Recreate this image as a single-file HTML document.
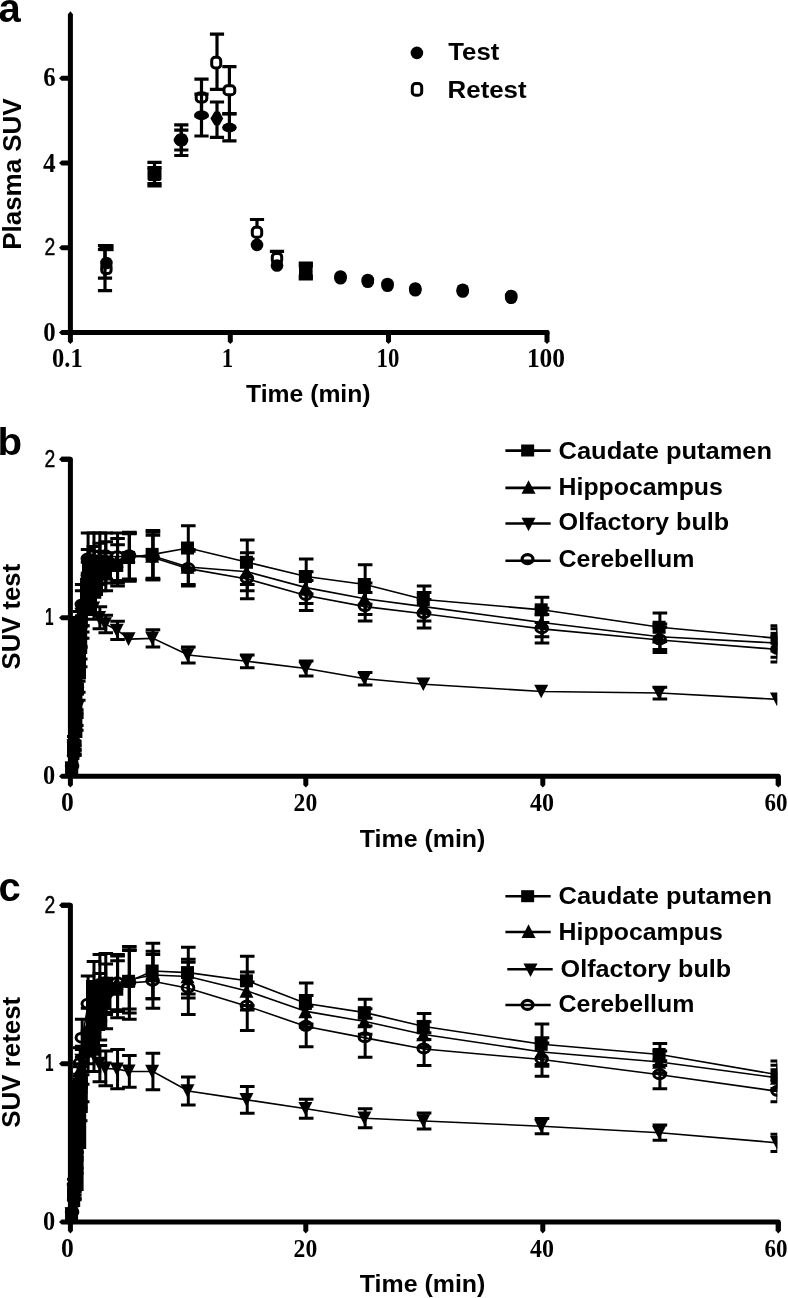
<!DOCTYPE html>
<html><head><meta charset="utf-8"><title>Figure</title>
<style>html,body{margin:0;padding:0;background:#fff;}body{width:788px;height:1298px;overflow:hidden;font-family:"Liberation Sans",sans-serif;}svg{display:block;filter:grayscale(1)}</style></head>
<body>
<svg width="788" height="1298" viewBox="0 0 788 1298" style="display:block">
<rect width="788" height="1298" fill="#fff"/>
<g fill="#000">
<text x="-1.5" y="22" font-family='"Liberation Sans", sans-serif' font-size="40" font-weight="bold" text-anchor="start" >a</text>
<text x="-2.5" y="455" font-family='"Liberation Sans", sans-serif' font-size="38" font-weight="bold" text-anchor="start" textLength="24.6" lengthAdjust="spacingAndGlyphs" >b</text>
<text x="-1.5" y="901" font-family='"Liberation Sans", sans-serif' font-size="40" font-weight="bold" text-anchor="start" >c</text>
<path d="M70.4,14V332.6H547" stroke="#000" stroke-width="5" fill="none" stroke-linejoin="miter"/>
<polygon points="67.9,14.2 70.4,11.2 72.9,14.2"/>
<rect x="67.9" y="330.1" width="5" height="5"/>
<polygon points="70.4,330.1 61.6,330.1 59,332.6 61.6,335.1 70.4,335.1"/>
<polygon points="70.4,245.3 61.6,245.3 59,247.8 61.6,250.3 70.4,250.3"/>
<polygon points="70.4,160.5 61.6,160.5 59,163 61.6,165.5 70.4,165.5"/>
<polygon points="70.4,75.7 61.6,75.7 59,78.2 61.6,80.7 70.4,80.7"/>
<polygon points="67.9,332.6 67.9,341.4 70.4,344 72.9,341.4 72.9,332.6"/>
<polygon points="227.8,332.6 227.8,341.4 230.3,344 232.8,341.4 232.8,332.6"/>
<polygon points="386,332.6 386,341.4 388.5,344 391,341.4 391,332.6"/>
<polygon points="544.5,332.6 544.5,341.4 547,344 549.5,341.4 549.5,332.6"/>
<rect x="544.5" y="330.1" width="5" height="5" rx="1.5"/>
<text x="55.6" y="340.5" font-family='"Liberation Serif", serif' font-size="27" font-weight="bold" text-anchor="end" textLength="12.4" lengthAdjust="spacingAndGlyphs" >0</text>
<text x="55.3" y="255.2" font-family='"Liberation Sans", sans-serif' font-size="24.5" font-weight="normal" text-anchor="end" textLength="10.8" lengthAdjust="spacingAndGlyphs" stroke="#000" stroke-width="0.45">2</text>
<text x="55.6" y="171.6" font-family='"Liberation Serif", serif' font-size="27" font-weight="bold" text-anchor="end" textLength="12.6" lengthAdjust="spacingAndGlyphs" >4</text>
<text x="55.6" y="85.9" font-family='"Liberation Serif", serif' font-size="27" font-weight="bold" text-anchor="end" textLength="12.4" lengthAdjust="spacingAndGlyphs" >6</text>
<text x="67.4" y="367.1" font-family='"Liberation Serif", serif' font-size="27" font-weight="bold" text-anchor="middle" textLength="30.6" lengthAdjust="spacingAndGlyphs" >0.1</text>
<text x="227.5" y="367.1" font-family='"Liberation Serif", serif' font-size="27" font-weight="bold" text-anchor="middle" textLength="11.4" lengthAdjust="spacingAndGlyphs" >1</text>
<text x="387.9" y="367.1" font-family='"Liberation Serif", serif' font-size="27" font-weight="bold" text-anchor="middle" textLength="22.8" lengthAdjust="spacingAndGlyphs" >10</text>
<text x="546" y="367.1" font-family='"Liberation Serif", serif' font-size="27" font-weight="bold" text-anchor="middle" textLength="38.2" lengthAdjust="spacingAndGlyphs" >100</text>
<text x="246" y="402.2" font-family='"Liberation Sans", sans-serif' font-size="24.6" font-weight="bold" text-anchor="start" textLength="124.6" lengthAdjust="spacingAndGlyphs" >Time (min)</text>
<text transform="translate(20.6,249.8) rotate(-90)" font-family='"Liberation Sans", sans-serif' font-size="26.4" font-weight="bold" textLength="151.4" lengthAdjust="spacingAndGlyphs">Plasma SUV</text>
<circle cx="416.9" cy="52.9" r="6.3"/>
<rect x="412.3" y="83.5" width="9.4" height="11.8" rx="3.4" fill="#fff" stroke="#000" stroke-width="3"/>
<text x="448.3" y="59.9" font-family='"Liberation Sans", sans-serif' font-size="24.6" font-weight="bold" text-anchor="start" textLength="51" lengthAdjust="spacingAndGlyphs" >Test</text>
<text x="447.6" y="97.5" font-family='"Liberation Sans", sans-serif' font-size="24.6" font-weight="bold" text-anchor="start" textLength="79" lengthAdjust="spacingAndGlyphs" >Retest</text>
<path d="M105,249.5V290.7M97.9,249.5H112.1M97.9,290.7H112.1" stroke="#000" stroke-width="3.2" fill="none"/>
<rect x="101.7" y="263.6" width="9.4" height="10.0" rx="3.4" fill="#fff" stroke="#000" stroke-width="3"/>
<path d="M154.5,167.5V183.5M147.4,167.5H161.6M147.4,183.5H161.6" stroke="#000" stroke-width="3.2" fill="none"/>
<rect x="149.8" y="168.4" width="9.4" height="10.0" rx="3.4" fill="#fff" stroke="#000" stroke-width="3"/>
<path d="M181.3,124.9V155.5M174.2,124.9H188.4M174.2,155.5H188.4" stroke="#000" stroke-width="3.2" fill="none"/>
<rect x="176.6" y="134.9" width="9.4" height="10.0" rx="3.4" fill="#fff" stroke="#000" stroke-width="3"/>
<path d="M201.5,79.1V116M194.4,79.1H208.6M194.4,116H208.6" stroke="#000" stroke-width="3.2" fill="none"/>
<rect x="196.2" y="93" width="10.6" height="9.0" rx="3.4" fill="#fff" stroke="#000" stroke-width="3"/>
<path d="M217,34.2V89.3M209.9,34.2H224.1M209.9,89.3H224.1" stroke="#000" stroke-width="3.2" fill="none"/>
<rect x="211.7" y="57.3" width="9.0" height="10.6" rx="3.4" fill="#fff" stroke="#000" stroke-width="3"/>
<path d="M229.4,66.6V114M222.3,66.6H236.5M222.3,114H236.5" stroke="#000" stroke-width="3.2" fill="none"/>
<rect x="224" y="85.8" width="10.8" height="9.0" rx="3.4" fill="#fff" stroke="#000" stroke-width="3"/>
<path d="M257,219.5V245M249.9,219.5H264.1" stroke="#000" stroke-width="3.2" fill="none"/>
<rect x="252.3" y="227.3" width="9.4" height="10.0" rx="3.4" fill="#fff" stroke="#000" stroke-width="3"/>
<path d="M277,251.3V264M269.9,251.3H284.1" stroke="#000" stroke-width="3.2" fill="none"/>
<rect x="272.3" y="253.4" width="9.4" height="10.0" rx="3.4" fill="#fff" stroke="#000" stroke-width="3"/>
<path d="M305.8,266V276M298.7,266H312.9M298.7,276H312.9" stroke="#000" stroke-width="3.2" fill="none"/>
<rect x="301.1" y="265.8" width="9.4" height="10.0" rx="3.4" fill="#fff" stroke="#000" stroke-width="3"/>
<circle cx="340.5" cy="278.2" r="6.3"/>
<circle cx="367.8" cy="281.7" r="6.3"/>
<circle cx="387.5" cy="285.7" r="6.3"/>
<circle cx="415.3" cy="290.2" r="6.3"/>
<circle cx="462.7" cy="291.5" r="6.3"/>
<circle cx="511.2" cy="297.7" r="6.3"/>
<path d="M105,245.7V278.2M97.9,245.7H112.1M97.9,278.2H112.1" stroke="#000" stroke-width="3.2" fill="none"/>
<circle cx="106.4" cy="263" r="6.3"/>
<path d="M154.5,162.4V186M147.4,162.4H161.6M147.4,186H161.6" stroke="#000" stroke-width="3.2" fill="none"/>
<rect x="147.5" y="166.4" width="14" height="14.6" rx="2"/>
<path d="M181.3,130.2V150M174.2,130.2H188.4M174.2,150H188.4" stroke="#000" stroke-width="3.2" fill="none"/>
<ellipse cx="181" cy="140.1" rx="7.4" ry="5.9"/>
<path d="M201.5,94.1V136M194.4,94.1H208.6M194.4,136H208.6" stroke="#000" stroke-width="3.2" fill="none"/>
<ellipse cx="201.5" cy="115.3" rx="7.3" ry="4.9"/>
<path d="M217,102V137.4M209.9,102H224.1M209.9,137.4H224.1" stroke="#000" stroke-width="3.2" fill="none"/>
<polygon points="210.4,118.4 214.5,111.6 219.5,111.6 223.2,118.4 219.5,125.2 214.5,125.2"/>
<path d="M229.4,113.6V140.8M222.3,113.6H236.5M222.3,140.8H236.5" stroke="#000" stroke-width="3.2" fill="none"/>
<ellipse cx="229.4" cy="127.6" rx="7.3" ry="4.9"/>
<circle cx="257" cy="244.9" r="6.3"/>
<circle cx="277" cy="265.5" r="6.3"/>
<path d="M305.8,263.2V278.9M298.7,263.2H312.9M298.7,278.9H312.9" stroke="#000" stroke-width="3.2" fill="none"/>
<circle cx="305.8" cy="271.3" r="6.3"/>
<circle cx="340.5" cy="276.6" r="6.4"/>
<circle cx="367.8" cy="280.1" r="6.4"/>
<circle cx="387.5" cy="284.1" r="6.4"/>
<circle cx="415.3" cy="288.6" r="6.4"/>
<circle cx="462.7" cy="289.9" r="6.4"/>
<circle cx="511.2" cy="296.1" r="6.4"/>
<rect x="99.3" y="244.1" width="14.3" height="7.1"/>
<rect x="299" y="263" width="13.6" height="16.4"/>
<clipPath id="cb"><rect x="0" y="419.3" width="777.3" height="376.9"/></clipPath>
<g clip-path="url(#cb)">
<polygon points="68,776 68,616 87.2,616 87.2,654 86,654 86,679 82.4,679 82.4,738 79.4,738 79.4,760 78.2,760 78.2,776"/>
<polygon points="82,556 112,556 112,578 103,578 103,596 97,596 97,616 77,616 77,600 80,600 80,578 82,578"/>
<polyline points="72.37,768.28 74.33,750.85 76.3,722.33 78.26,689.05 80.22,652.61 82.19,620.92 88.09,578.14 93.98,574.97 99.88,573.38 105.77,571.8 117.56,565.46 129.35,557.54 152.93,554.37 188.3,548.03 247.25,562.29 306.2,576.55 365.15,584.48 424.1,599.53 542,609.83 659.9,627.26 777.8,638.35" fill="none" stroke="#000" stroke-width="1.6"/>
<path d="M74.33,746.09V755.6M67.03,746.09H81.63M67.03,755.6H81.63" stroke="#000" stroke-width="3.0" fill="none"/>
<path d="M76.3,714.4V730.25M69,714.4H83.59M69,730.25H83.59" stroke="#000" stroke-width="3.0" fill="none"/>
<path d="M78.26,677.96V700.14M70.96,677.96H85.56M70.96,700.14H85.56" stroke="#000" stroke-width="3.0" fill="none"/>
<path d="M80.22,638.35V666.87M72.92,638.35H87.52M72.92,666.87H87.52" stroke="#000" stroke-width="3.0" fill="none"/>
<path d="M82.19,603.49V638.35M74.89,603.49H89.49M74.89,638.35H89.49" stroke="#000" stroke-width="3.0" fill="none"/>
<path d="M88.09,562.29V593.98M80.79,562.29H95.39M80.79,593.98H95.39" stroke="#000" stroke-width="3.0" fill="none"/>
<path d="M93.98,557.54V592.4M86.68,557.54H101.28M86.68,592.4H101.28" stroke="#000" stroke-width="3.0" fill="none"/>
<path d="M99.88,555.95V590.81M92.58,555.95H107.17M92.58,590.81H107.17" stroke="#000" stroke-width="3.0" fill="none"/>
<path d="M105.77,552.79V590.81M98.47,552.79H113.07M98.47,590.81H113.07" stroke="#000" stroke-width="3.0" fill="none"/>
<path d="M117.56,544.86V586.06M110.26,544.86H124.86M110.26,586.06H124.86" stroke="#000" stroke-width="3.0" fill="none"/>
<path d="M129.35,533.77V581.31M122.05,533.77H136.65M122.05,581.31H136.65" stroke="#000" stroke-width="3.0" fill="none"/>
<path d="M152.93,530.6V578.14M145.63,530.6H160.23M145.63,578.14H160.23" stroke="#000" stroke-width="3.0" fill="none"/>
<path d="M188.3,525.85V570.22M181,525.85H195.6M181,570.22H195.6" stroke="#000" stroke-width="3.0" fill="none"/>
<path d="M247.25,540.11V584.48M239.95,540.11H254.55M239.95,584.48H254.55" stroke="#000" stroke-width="3.0" fill="none"/>
<path d="M306.2,559.12V593.98M298.9,559.12H313.5M298.9,593.98H313.5" stroke="#000" stroke-width="3.0" fill="none"/>
<path d="M365.15,564.67V604.28M357.85,564.67H372.45M357.85,604.28H372.45" stroke="#000" stroke-width="3.0" fill="none"/>
<path d="M424.1,586.06V613M416.8,586.06H431.4M416.8,613H431.4" stroke="#000" stroke-width="3.0" fill="none"/>
<path d="M542,597.15V622.5M534.7,597.15H549.3M534.7,622.5H549.3" stroke="#000" stroke-width="3.0" fill="none"/>
<path d="M659.9,613V641.52M652.6,613H667.2M652.6,641.52H667.2" stroke="#000" stroke-width="3.0" fill="none"/>
<path d="M777.8,625.67V651.02M770.5,625.67H785.1M770.5,651.02H785.1" stroke="#000" stroke-width="3.0" fill="none"/>
<rect x="65.07" y="761.78" width="13" height="13"/>
<rect x="67.03" y="744.35" width="13" height="13"/>
<rect x="69" y="715.83" width="13" height="13"/>
<rect x="70.96" y="682.55" width="13" height="13"/>
<rect x="72.92" y="646.11" width="13" height="13"/>
<rect x="74.89" y="614.42" width="13" height="13"/>
<rect x="80.79" y="571.64" width="13" height="13"/>
<rect x="86.68" y="568.47" width="13" height="13"/>
<rect x="92.58" y="566.88" width="13" height="13"/>
<rect x="98.47" y="565.3" width="13" height="13"/>
<rect x="110.26" y="558.96" width="13" height="13"/>
<rect x="122.05" y="551.04" width="13" height="13"/>
<rect x="145.63" y="547.87" width="13" height="13"/>
<rect x="181" y="541.53" width="13" height="13"/>
<rect x="239.95" y="555.79" width="13" height="13"/>
<rect x="298.9" y="570.05" width="13" height="13"/>
<rect x="357.85" y="577.98" width="13" height="13"/>
<rect x="416.8" y="593.03" width="13" height="13"/>
<rect x="534.7" y="603.33" width="13" height="13"/>
<rect x="652.6" y="620.76" width="13" height="13"/>
<rect x="770.5" y="631.85" width="13" height="13"/>
<polyline points="72.37,768.28 74.33,749.26 76.3,717.57 78.26,681.13 80.22,643.1 82.19,611.41 88.09,568.63 93.98,565.46 99.88,563.88 105.77,562.29 117.56,560.71 129.35,555.95 152.93,555.95 188.3,567.05 247.25,571.8 306.2,587.64 365.15,598.74 424.1,606.66 542,622.5 659.9,636.76 777.8,643.1" fill="none" stroke="#000" stroke-width="1.6"/>
<path d="M74.33,744.51V754.02M67.03,744.51H81.63M67.03,754.02H81.63" stroke="#000" stroke-width="3.0" fill="none"/>
<path d="M76.3,709.65V725.5M69,709.65H83.59M69,725.5H83.59" stroke="#000" stroke-width="3.0" fill="none"/>
<path d="M78.26,670.04V692.22M70.96,670.04H85.56M70.96,692.22H85.56" stroke="#000" stroke-width="3.0" fill="none"/>
<path d="M80.22,627.26V658.95M72.92,627.26H87.52M72.92,658.95H87.52" stroke="#000" stroke-width="3.0" fill="none"/>
<path d="M82.19,590.81V632.01M74.89,590.81H89.49M74.89,632.01H89.49" stroke="#000" stroke-width="3.0" fill="none"/>
<path d="M88.09,549.62V587.64M80.79,549.62H95.39M80.79,587.64H95.39" stroke="#000" stroke-width="3.0" fill="none"/>
<path d="M93.98,546.45V584.48M86.68,546.45H101.28M86.68,584.48H101.28" stroke="#000" stroke-width="3.0" fill="none"/>
<path d="M99.88,543.28V584.48M92.58,543.28H107.17M92.58,584.48H107.17" stroke="#000" stroke-width="3.0" fill="none"/>
<path d="M105.77,541.69V582.89M98.47,541.69H113.07M98.47,582.89H113.07" stroke="#000" stroke-width="3.0" fill="none"/>
<path d="M117.56,538.53V582.89M110.26,538.53H124.86M110.26,582.89H124.86" stroke="#000" stroke-width="3.0" fill="none"/>
<path d="M129.35,532.19V579.72M122.05,532.19H136.65M122.05,579.72H136.65" stroke="#000" stroke-width="3.0" fill="none"/>
<path d="M152.93,532.19V579.72M145.63,532.19H160.23M145.63,579.72H160.23" stroke="#000" stroke-width="3.0" fill="none"/>
<path d="M188.3,549.62V584.48M181,549.62H195.6M181,584.48H195.6" stroke="#000" stroke-width="3.0" fill="none"/>
<path d="M247.25,552.79V590.81M239.95,552.79H254.55M239.95,590.81H254.55" stroke="#000" stroke-width="3.0" fill="none"/>
<path d="M306.2,571.8V603.49M298.9,571.8H313.5M298.9,603.49H313.5" stroke="#000" stroke-width="3.0" fill="none"/>
<path d="M365.15,582.89V614.58M357.85,582.89H372.45M357.85,614.58H372.45" stroke="#000" stroke-width="3.0" fill="none"/>
<path d="M424.1,592.4V620.92M416.8,592.4H431.4M416.8,620.92H431.4" stroke="#000" stroke-width="3.0" fill="none"/>
<path d="M542,608.24V636.76M534.7,608.24H549.3M534.7,636.76H549.3" stroke="#000" stroke-width="3.0" fill="none"/>
<path d="M659.9,624.09V649.44M652.6,624.09H667.2M652.6,649.44H667.2" stroke="#000" stroke-width="3.0" fill="none"/>
<path d="M777.8,628.84V657.36M770.5,628.84H785.1M770.5,657.36H785.1" stroke="#000" stroke-width="3.0" fill="none"/>
<polygon points="64.57,775.08 78.57,775.08 71.57,761.48"/>
<polygon points="66.53,756.06 80.53,756.06 73.53,742.46"/>
<polygon points="68.5,724.37 82.5,724.37 75.5,710.77"/>
<polygon points="70.46,687.93 84.46,687.93 77.46,674.33"/>
<polygon points="72.42,649.9 86.42,649.9 79.42,636.3"/>
<polygon points="74.39,618.21 88.39,618.21 81.39,604.61"/>
<polygon points="80.29,575.43 94.29,575.43 87.29,561.83"/>
<polygon points="86.18,572.26 100.18,572.26 93.18,558.66"/>
<polygon points="92.08,570.68 106.08,570.68 99.08,557.08"/>
<polygon points="97.97,569.09 111.97,569.09 104.97,555.49"/>
<polygon points="109.76,567.51 123.76,567.51 116.76,553.91"/>
<polygon points="121.55,562.75 135.55,562.75 128.55,549.15"/>
<polygon points="145.13,562.75 159.13,562.75 152.13,549.15"/>
<polygon points="180.5,573.85 194.5,573.85 187.5,560.25"/>
<polygon points="239.45,578.6 253.45,578.6 246.45,565"/>
<polygon points="298.4,594.44 312.4,594.44 305.4,580.84"/>
<polygon points="357.35,605.54 371.35,605.54 364.35,591.94"/>
<polygon points="416.3,613.46 430.3,613.46 423.3,599.86"/>
<polygon points="534.2,629.3 548.2,629.3 541.2,615.7"/>
<polygon points="652.1,643.56 666.1,643.56 659.1,629.96"/>
<polygon points="770,649.9 784,649.9 777,636.3"/>
<polyline points="72.37,768.28 74.33,746.09 76.3,709.65 78.26,671.62 80.22,636.76 82.19,614.58 88.09,601.91 93.98,608.24 99.88,617.75 105.77,624.09 117.56,630.43 129.35,639.14 152.93,638.35 188.3,654.99 247.25,661.32 306.2,668.45 365.15,678.75 424.1,684.3 542,691.43 659.9,693.01 777.8,699.35" fill="none" stroke="#000" stroke-width="1.6"/>
<path d="M74.33,741.34V750.85M67.03,741.34H81.63M67.03,750.85H81.63" stroke="#000" stroke-width="3.0" fill="none"/>
<path d="M76.3,701.73V717.57M69,701.73H83.59M69,717.57H83.59" stroke="#000" stroke-width="3.0" fill="none"/>
<path d="M78.26,662.12V681.13M70.96,662.12H85.56M70.96,681.13H85.56" stroke="#000" stroke-width="3.0" fill="none"/>
<path d="M80.22,625.67V647.86M72.92,625.67H87.52M72.92,647.86H87.52" stroke="#000" stroke-width="3.0" fill="none"/>
<path d="M82.19,603.49V625.67M74.89,603.49H89.49M74.89,625.67H89.49" stroke="#000" stroke-width="3.0" fill="none"/>
<path d="M88.09,590.81V613M80.79,590.81H95.39M80.79,613H95.39" stroke="#000" stroke-width="3.0" fill="none"/>
<path d="M93.98,597.15V619.33M86.68,597.15H101.28M86.68,619.33H101.28" stroke="#000" stroke-width="3.0" fill="none"/>
<path d="M99.88,606.66V628.84M92.58,606.66H107.17M92.58,628.84H107.17" stroke="#000" stroke-width="3.0" fill="none"/>
<path d="M105.77,615.37V632.8M98.47,615.37H113.07M98.47,632.8H113.07" stroke="#000" stroke-width="3.0" fill="none"/>
<path d="M117.56,621.24V639.62M110.26,621.24H124.86M110.26,639.62H124.86" stroke="#000" stroke-width="3.0" fill="none"/>
<path d="M152.93,629.63V647.06M145.63,629.63H160.23M145.63,647.06H160.23" stroke="#000" stroke-width="3.0" fill="none"/>
<path d="M188.3,647.06V662.91M181,647.06H195.6M181,662.91H195.6" stroke="#000" stroke-width="3.0" fill="none"/>
<path d="M247.25,654.99V667.66M239.95,654.99H254.55M239.95,667.66H254.55" stroke="#000" stroke-width="3.0" fill="none"/>
<path d="M306.2,661.01V675.9M298.9,661.01H313.5M298.9,675.9H313.5" stroke="#000" stroke-width="3.0" fill="none"/>
<path d="M365.15,672.42V685.09M357.85,672.42H372.45M357.85,685.09H372.45" stroke="#000" stroke-width="3.0" fill="none"/>
<path d="M659.9,687.15V698.88M652.6,687.15H667.2M652.6,698.88H667.2" stroke="#000" stroke-width="3.0" fill="none"/>
<polygon points="64.57,761.48 78.57,761.48 71.57,775.08"/>
<polygon points="66.53,739.29 80.53,739.29 73.53,752.89"/>
<polygon points="68.5,702.85 82.5,702.85 75.5,716.45"/>
<polygon points="70.46,664.82 84.46,664.82 77.46,678.42"/>
<polygon points="72.42,629.96 86.42,629.96 79.42,643.56"/>
<polygon points="74.39,607.78 88.39,607.78 81.39,621.38"/>
<polygon points="80.29,595.11 94.29,595.11 87.29,608.71"/>
<polygon points="86.18,601.44 100.18,601.44 93.18,615.04"/>
<polygon points="92.08,610.95 106.08,610.95 99.08,624.55"/>
<polygon points="97.97,617.29 111.97,617.29 104.97,630.89"/>
<polygon points="109.76,623.63 123.76,623.63 116.76,637.23"/>
<polygon points="121.55,632.34 135.55,632.34 128.55,645.94"/>
<polygon points="145.13,631.55 159.13,631.55 152.13,645.15"/>
<polygon points="180.5,648.19 194.5,648.19 187.5,661.79"/>
<polygon points="239.45,654.52 253.45,654.52 246.45,668.12"/>
<polygon points="298.4,661.65 312.4,661.65 305.4,675.25"/>
<polygon points="357.35,671.95 371.35,671.95 364.35,685.55"/>
<polygon points="416.3,677.5 430.3,677.5 423.3,691.1"/>
<polygon points="534.2,684.63 548.2,684.63 541.2,698.23"/>
<polygon points="652.1,686.21 666.1,686.21 659.1,699.81"/>
<polygon points="770,692.55 784,692.55 777,706.15"/>
<polyline points="72.37,766.69 74.33,742.93 76.3,703.31 78.26,662.12 80.22,628.84 82.19,605.07 88.09,559.12 93.98,555.95 99.88,555.95 105.77,555.95 117.56,556.75 129.35,555.95 152.93,557.54 188.3,568.63 247.25,578.93 306.2,595.57 365.15,606.66 424.1,613.79 542,628.84 659.9,639.93 777.8,649.44" fill="none" stroke="#000" stroke-width="1.6"/>
<path d="M74.33,736.59V749.26M67.03,736.59H81.63M67.03,749.26H81.63" stroke="#000" stroke-width="3.0" fill="none"/>
<path d="M76.3,693.81V712.82M69,693.81H83.59M69,712.82H83.59" stroke="#000" stroke-width="3.0" fill="none"/>
<path d="M78.26,647.86V676.38M70.96,647.86H85.56M70.96,676.38H85.56" stroke="#000" stroke-width="3.0" fill="none"/>
<path d="M80.22,611.41V646.27M72.92,611.41H87.52M72.92,646.27H87.52" stroke="#000" stroke-width="3.0" fill="none"/>
<path d="M82.19,584.48V625.67M74.89,584.48H89.49M74.89,625.67H89.49" stroke="#000" stroke-width="3.0" fill="none"/>
<path d="M88.09,532.98V585.27M80.79,532.98H95.39M80.79,585.27H95.39" stroke="#000" stroke-width="3.0" fill="none"/>
<path d="M93.98,532.98V578.93M86.68,532.98H101.28M86.68,578.93H101.28" stroke="#000" stroke-width="3.0" fill="none"/>
<path d="M99.88,532.98V578.93M92.58,532.98H107.17M92.58,578.93H107.17" stroke="#000" stroke-width="3.0" fill="none"/>
<path d="M105.77,532.98V578.93M98.47,532.98H113.07M98.47,578.93H113.07" stroke="#000" stroke-width="3.0" fill="none"/>
<path d="M117.56,532.98V580.51M110.26,532.98H124.86M110.26,580.51H124.86" stroke="#000" stroke-width="3.0" fill="none"/>
<path d="M129.35,532.98V578.93M122.05,532.98H136.65M122.05,578.93H136.65" stroke="#000" stroke-width="3.0" fill="none"/>
<path d="M152.93,535.36V579.72M145.63,535.36H160.23M145.63,579.72H160.23" stroke="#000" stroke-width="3.0" fill="none"/>
<path d="M188.3,551.2V586.06M181,551.2H195.6M181,586.06H195.6" stroke="#000" stroke-width="3.0" fill="none"/>
<path d="M247.25,559.12V598.74M239.95,559.12H254.55M239.95,598.74H254.55" stroke="#000" stroke-width="3.0" fill="none"/>
<path d="M306.2,580.51V610.62M298.9,580.51H313.5M298.9,610.62H313.5" stroke="#000" stroke-width="3.0" fill="none"/>
<path d="M365.15,592.4V620.92M357.85,592.4H372.45M357.85,620.92H372.45" stroke="#000" stroke-width="3.0" fill="none"/>
<path d="M424.1,599.53V628.05M416.8,599.53H431.4M416.8,628.05H431.4" stroke="#000" stroke-width="3.0" fill="none"/>
<path d="M542,614.58V643.1M534.7,614.58H549.3M534.7,643.1H549.3" stroke="#000" stroke-width="3.0" fill="none"/>
<path d="M659.9,627.26V652.61M652.6,627.26H667.2M652.6,652.61H667.2" stroke="#000" stroke-width="3.0" fill="none"/>
<path d="M777.8,636.76V662.12M770.5,636.76H785.1M770.5,662.12H785.1" stroke="#000" stroke-width="3.0" fill="none"/>
<ellipse cx="72.07" cy="766.09" rx="5.8" ry="4.5" fill="none" stroke="#000" stroke-width="3.0"/>
<ellipse cx="74.03" cy="742.33" rx="5.8" ry="4.5" fill="none" stroke="#000" stroke-width="3.0"/>
<ellipse cx="76" cy="702.71" rx="5.8" ry="4.5" fill="none" stroke="#000" stroke-width="3.0"/>
<ellipse cx="77.96" cy="661.52" rx="5.8" ry="4.5" fill="none" stroke="#000" stroke-width="3.0"/>
<ellipse cx="79.92" cy="628.24" rx="5.8" ry="4.5" fill="none" stroke="#000" stroke-width="3.0"/>
<ellipse cx="81.89" cy="604.47" rx="5.8" ry="4.5" fill="none" stroke="#000" stroke-width="3.0"/>
<ellipse cx="87.79" cy="558.52" rx="5.8" ry="4.5" fill="none" stroke="#000" stroke-width="3.0"/>
<ellipse cx="93.68" cy="555.35" rx="5.8" ry="4.5" fill="none" stroke="#000" stroke-width="3.0"/>
<ellipse cx="99.58" cy="555.35" rx="5.8" ry="4.5" fill="none" stroke="#000" stroke-width="3.0"/>
<ellipse cx="105.47" cy="555.35" rx="5.8" ry="4.5" fill="none" stroke="#000" stroke-width="3.0"/>
<ellipse cx="117.26" cy="556.15" rx="5.8" ry="4.5" fill="none" stroke="#000" stroke-width="3.0"/>
<ellipse cx="129.05" cy="555.35" rx="5.8" ry="4.5" fill="none" stroke="#000" stroke-width="3.0"/>
<ellipse cx="152.63" cy="556.94" rx="5.8" ry="4.5" fill="none" stroke="#000" stroke-width="3.0"/>
<ellipse cx="188" cy="568.03" rx="5.8" ry="4.5" fill="none" stroke="#000" stroke-width="3.0"/>
<ellipse cx="246.95" cy="578.33" rx="5.8" ry="4.5" fill="none" stroke="#000" stroke-width="3.0"/>
<ellipse cx="305.9" cy="594.97" rx="5.8" ry="4.5" fill="none" stroke="#000" stroke-width="3.0"/>
<ellipse cx="364.85" cy="606.06" rx="5.8" ry="4.5" fill="none" stroke="#000" stroke-width="3.0"/>
<ellipse cx="423.8" cy="613.19" rx="5.8" ry="4.5" fill="none" stroke="#000" stroke-width="3.0"/>
<ellipse cx="541.7" cy="628.24" rx="5.8" ry="4.5" fill="none" stroke="#000" stroke-width="3.0"/>
<ellipse cx="659.6" cy="639.33" rx="5.8" ry="4.5" fill="none" stroke="#000" stroke-width="3.0"/>
<ellipse cx="777.5" cy="648.84" rx="5.8" ry="4.5" fill="none" stroke="#000" stroke-width="3.0"/>
</g>
<path d="M61.4,459.3H70.4V776.2H778.3V785.2" stroke="#000" stroke-width="5" fill="none" stroke-linejoin="round"/>
<rect x="67.9" y="773.7" width="5" height="5"/>
<polygon points="70.4,773.7 61.6,773.7 59,776.2 61.6,778.7 70.4,778.7"/>
<polygon points="70.4,615.25 61.6,615.25 59,617.75 61.6,620.25 70.4,620.25"/>
<polygon points="70.4,456.8 61.6,456.8 59,459.3 61.6,461.8 70.4,461.8"/>
<polygon points="67.9,776.2 67.9,785 70.4,787.6 72.9,785 72.9,776.2"/>
<polygon points="303.3,776.2 303.3,785 305.8,787.6 308.3,785 308.3,776.2"/>
<polygon points="540.3,776.2 540.3,785 542.8,787.6 545.3,785 545.3,776.2"/>
<polygon points="775.8,776.2 775.8,785 778.3,787.6 780.8,785 780.8,776.2"/>
<text x="55.3" y="784.3" font-family='"Liberation Serif", serif' font-size="27" font-weight="bold" text-anchor="end" textLength="12.2" lengthAdjust="spacingAndGlyphs" >0</text>
<text x="53.6" y="625.15" font-family='"Liberation Sans", sans-serif' font-size="23.5" font-weight="bold" text-anchor="end" textLength="8.6" lengthAdjust="spacingAndGlyphs" >1</text>
<text x="55.3" y="467.3" font-family='"Liberation Sans", sans-serif' font-size="24.5" font-weight="normal" text-anchor="end" textLength="10.8" lengthAdjust="spacingAndGlyphs" stroke="#000" stroke-width="0.45">2</text>
<text x="67.4" y="811" font-family='"Liberation Serif", serif' font-size="26.5" font-weight="bold" text-anchor="middle" textLength="12.8" lengthAdjust="spacingAndGlyphs" >0</text>
<text x="305.4" y="811" font-family='"Liberation Serif", serif' font-size="26" font-weight="bold" text-anchor="middle" textLength="23.6" lengthAdjust="spacingAndGlyphs" >20</text>
<text x="542" y="811" font-family='"Liberation Serif", serif' font-size="26" font-weight="bold" text-anchor="middle" textLength="24" lengthAdjust="spacingAndGlyphs" >40</text>
<text x="764.6" y="811" font-family='"Liberation Serif", serif' font-size="26" font-weight="bold" text-anchor="start" textLength="23" lengthAdjust="spacingAndGlyphs" >60</text>
<text x="359.8" y="846.6" font-family='"Liberation Sans", sans-serif' font-size="24.6" font-weight="bold" text-anchor="start" textLength="125.6" lengthAdjust="spacingAndGlyphs" >Time (min)</text>
<clipPath id="cc"><rect x="0" y="865.3" width="777.3" height="376.7"/></clipPath>
<g clip-path="url(#cc)">
<polygon points="68,1222 68,1080 87.8,1080 87.8,1113 86.2,1113 86.2,1149 83.6,1149 83.6,1191 80.2,1191 80.2,1207 77,1207 77,1222"/>
<polygon points="86,980 111,980 111,1000 105,1000 105,1031 100,1031 100,1055 82,1055 82,1034 86,1034"/>
<polyline points="72.37,1214.08 74.33,1195.08 76.3,1164.99 78.26,1133.32 80.22,1104.82 82.19,1082.65 88.09,1050.98 93.98,1031.98 99.88,1016.14 105.77,1003.48 117.56,989.23 129.35,981.31 152.93,971.02 188.3,972.6 247.25,980.83 306.2,1003.48 365.15,1012.66 424.1,1026.44 542,1044.33 659.9,1054.47 777.8,1074.73" fill="none" stroke="#000" stroke-width="1.6"/>
<path d="M74.33,1190.33V1199.83M67.03,1190.33H81.63M67.03,1199.83H81.63" stroke="#000" stroke-width="3.0" fill="none"/>
<path d="M76.3,1157.08V1172.91M69,1157.08H83.59M69,1172.91H83.59" stroke="#000" stroke-width="3.0" fill="none"/>
<path d="M78.26,1120.66V1145.99M70.96,1120.66H85.56M70.96,1145.99H85.56" stroke="#000" stroke-width="3.0" fill="none"/>
<path d="M80.22,1088.99V1120.66M72.92,1088.99H87.52M72.92,1120.66H87.52" stroke="#000" stroke-width="3.0" fill="none"/>
<path d="M82.19,1063.65V1101.65M74.89,1063.65H89.49M74.89,1101.65H89.49" stroke="#000" stroke-width="3.0" fill="none"/>
<path d="M88.09,1030.4V1071.57M80.79,1030.4H95.39M80.79,1071.57H95.39" stroke="#000" stroke-width="3.0" fill="none"/>
<path d="M93.98,1009.81V1054.15M86.68,1009.81H101.28M86.68,1054.15H101.28" stroke="#000" stroke-width="3.0" fill="none"/>
<path d="M99.88,992.39V1039.9M92.58,992.39H107.17M92.58,1039.9H107.17" stroke="#000" stroke-width="3.0" fill="none"/>
<path d="M105.77,978.14V1028.81M98.47,978.14H113.07M98.47,1028.81H113.07" stroke="#000" stroke-width="3.0" fill="none"/>
<path d="M117.56,960.72V1017.73M110.26,960.72H124.86M110.26,1017.73H124.86" stroke="#000" stroke-width="3.0" fill="none"/>
<path d="M129.35,949.64V1012.98M122.05,949.64H136.65M122.05,1012.98H136.65" stroke="#000" stroke-width="3.0" fill="none"/>
<path d="M152.93,943.3V998.73M145.63,943.3H160.23M145.63,998.73H160.23" stroke="#000" stroke-width="3.0" fill="none"/>
<path d="M188.3,947.26V997.93M181,947.26H195.6M181,997.93H195.6" stroke="#000" stroke-width="3.0" fill="none"/>
<path d="M247.25,956.29V1005.38M239.95,956.29H254.55M239.95,1005.38H254.55" stroke="#000" stroke-width="3.0" fill="none"/>
<path d="M306.2,982.89V1024.06M298.9,982.89H313.5M298.9,1024.06H313.5" stroke="#000" stroke-width="3.0" fill="none"/>
<path d="M365.15,999.2V1026.12M357.85,999.2H372.45M357.85,1026.12H372.45" stroke="#000" stroke-width="3.0" fill="none"/>
<path d="M424.1,1013.45V1039.42M416.8,1013.45H431.4M416.8,1039.42H431.4" stroke="#000" stroke-width="3.0" fill="none"/>
<path d="M542,1024.06V1064.6M534.7,1024.06H549.3M534.7,1064.6H549.3" stroke="#000" stroke-width="3.0" fill="none"/>
<path d="M659.9,1043.38V1065.55M652.6,1043.38H667.2M652.6,1065.55H667.2" stroke="#000" stroke-width="3.0" fill="none"/>
<path d="M777.8,1060.96V1088.51M770.5,1060.96H785.1M770.5,1088.51H785.1" stroke="#000" stroke-width="3.0" fill="none"/>
<rect x="65.07" y="1207.58" width="13" height="13"/>
<rect x="67.03" y="1188.58" width="13" height="13"/>
<rect x="69" y="1158.49" width="13" height="13"/>
<rect x="70.96" y="1126.82" width="13" height="13"/>
<rect x="72.92" y="1098.32" width="13" height="13"/>
<rect x="74.89" y="1076.15" width="13" height="13"/>
<rect x="80.79" y="1044.48" width="13" height="13"/>
<rect x="86.68" y="1025.48" width="13" height="13"/>
<rect x="92.58" y="1009.64" width="13" height="13"/>
<rect x="98.47" y="996.98" width="13" height="13"/>
<rect x="110.26" y="982.73" width="13" height="13"/>
<rect x="122.05" y="974.81" width="13" height="13"/>
<rect x="145.63" y="964.52" width="13" height="13"/>
<rect x="181" y="966.1" width="13" height="13"/>
<rect x="239.95" y="974.33" width="13" height="13"/>
<rect x="298.9" y="996.98" width="13" height="13"/>
<rect x="357.85" y="1006.16" width="13" height="13"/>
<rect x="416.8" y="1019.94" width="13" height="13"/>
<rect x="534.7" y="1037.83" width="13" height="13"/>
<rect x="652.6" y="1047.97" width="13" height="13"/>
<rect x="770.5" y="1068.23" width="13" height="13"/>
<polyline points="72.37,1214.08 74.33,1193.5 76.3,1160.24 78.26,1123.82 80.22,1092.15 82.19,1066.82 88.09,1028.81 93.98,1009.81 99.88,997.14 105.77,989.23 117.56,982.89 129.35,979.72 152.93,974.97 188.3,976.56 247.25,990.97 306.2,1011.39 365.15,1021.53 424.1,1034.51 542,1051.93 659.9,1062.07 777.8,1077.9" fill="none" stroke="#000" stroke-width="1.6"/>
<path d="M74.33,1188.75V1198.25M67.03,1188.75H81.63M67.03,1198.25H81.63" stroke="#000" stroke-width="3.0" fill="none"/>
<path d="M76.3,1152.33V1168.16M69,1152.33H83.59M69,1168.16H83.59" stroke="#000" stroke-width="3.0" fill="none"/>
<path d="M78.26,1111.16V1136.49M70.96,1111.16H85.56M70.96,1136.49H85.56" stroke="#000" stroke-width="3.0" fill="none"/>
<path d="M80.22,1076.32V1107.99M72.92,1076.32H87.52M72.92,1107.99H87.52" stroke="#000" stroke-width="3.0" fill="none"/>
<path d="M82.19,1049.4V1084.24M74.89,1049.4H89.49M74.89,1084.24H89.49" stroke="#000" stroke-width="3.0" fill="none"/>
<path d="M88.09,1008.23V1049.4M80.79,1008.23H95.39M80.79,1049.4H95.39" stroke="#000" stroke-width="3.0" fill="none"/>
<path d="M93.98,987.64V1031.98M86.68,987.64H101.28M86.68,1031.98H101.28" stroke="#000" stroke-width="3.0" fill="none"/>
<path d="M99.88,973.39V1020.9M92.58,973.39H107.17M92.58,1020.9H107.17" stroke="#000" stroke-width="3.0" fill="none"/>
<path d="M105.77,963.89V1014.56M98.47,963.89H113.07M98.47,1014.56H113.07" stroke="#000" stroke-width="3.0" fill="none"/>
<path d="M117.56,955.97V1009.81M110.26,955.97H124.86M110.26,1009.81H124.86" stroke="#000" stroke-width="3.0" fill="none"/>
<path d="M129.35,950.43V1009.02M122.05,950.43H136.65M122.05,1009.02H136.65" stroke="#000" stroke-width="3.0" fill="none"/>
<path d="M152.93,951.22V998.73M145.63,951.22H160.23M145.63,998.73H160.23" stroke="#000" stroke-width="3.0" fill="none"/>
<path d="M188.3,959.14V993.98M181,959.14H195.6M181,993.98H195.6" stroke="#000" stroke-width="3.0" fill="none"/>
<path d="M247.25,971.97V1009.97M239.95,971.97H254.55M239.95,1009.97H254.55" stroke="#000" stroke-width="3.0" fill="none"/>
<path d="M306.2,995.56V1027.23M298.9,995.56H313.5M298.9,1027.23H313.5" stroke="#000" stroke-width="3.0" fill="none"/>
<path d="M365.15,1008.86V1034.2M357.85,1008.86H372.45M357.85,1034.2H372.45" stroke="#000" stroke-width="3.0" fill="none"/>
<path d="M424.1,1021.85V1047.18M416.8,1021.85H431.4M416.8,1047.18H431.4" stroke="#000" stroke-width="3.0" fill="none"/>
<path d="M542,1037.68V1066.18M534.7,1037.68H549.3M534.7,1066.18H549.3" stroke="#000" stroke-width="3.0" fill="none"/>
<path d="M659.9,1050.98V1073.15M652.6,1050.98H667.2M652.6,1073.15H667.2" stroke="#000" stroke-width="3.0" fill="none"/>
<path d="M777.8,1065.23V1090.57M770.5,1065.23H785.1M770.5,1090.57H785.1" stroke="#000" stroke-width="3.0" fill="none"/>
<polygon points="64.57,1220.88 78.57,1220.88 71.57,1207.28"/>
<polygon points="66.53,1200.3 80.53,1200.3 73.53,1186.7"/>
<polygon points="68.5,1167.04 82.5,1167.04 75.5,1153.44"/>
<polygon points="70.46,1130.62 84.46,1130.62 77.46,1117.02"/>
<polygon points="72.42,1098.95 86.42,1098.95 79.42,1085.35"/>
<polygon points="74.39,1073.62 88.39,1073.62 81.39,1060.02"/>
<polygon points="80.29,1035.61 94.29,1035.61 87.29,1022.01"/>
<polygon points="86.18,1016.61 100.18,1016.61 93.18,1003.01"/>
<polygon points="92.08,1003.94 106.08,1003.94 99.08,990.34"/>
<polygon points="97.97,996.03 111.97,996.03 104.97,982.43"/>
<polygon points="109.76,989.69 123.76,989.69 116.76,976.09"/>
<polygon points="121.55,986.52 135.55,986.52 128.55,972.92"/>
<polygon points="145.13,981.77 159.13,981.77 152.13,968.17"/>
<polygon points="180.5,983.36 194.5,983.36 187.5,969.76"/>
<polygon points="239.45,997.77 253.45,997.77 246.45,984.17"/>
<polygon points="298.4,1018.19 312.4,1018.19 305.4,1004.59"/>
<polygon points="357.35,1028.33 371.35,1028.33 364.35,1014.73"/>
<polygon points="416.3,1041.31 430.3,1041.31 423.3,1027.71"/>
<polygon points="534.2,1058.73 548.2,1058.73 541.2,1045.13"/>
<polygon points="652.1,1068.87 666.1,1068.87 659.1,1055.27"/>
<polygon points="770,1084.7 784,1084.7 777,1071.1"/>
<polyline points="72.37,1214.08 74.33,1190.33 76.3,1152.33 78.26,1114.32 80.22,1079.49 82.19,1060.48 88.09,1047.82 93.98,1054.15 99.88,1063.65 105.77,1068.4 117.56,1069.19 129.35,1071.41 152.93,1071.57 188.3,1091.04 247.25,1099.91 306.2,1108.78 365.15,1118.28 424.1,1120.97 542,1126.2 659.9,1132.69 777.8,1142.83" fill="none" stroke="#000" stroke-width="1.6"/>
<path d="M74.33,1185.58V1195.08M67.03,1185.58H81.63M67.03,1195.08H81.63" stroke="#000" stroke-width="3.0" fill="none"/>
<path d="M76.3,1144.41V1160.24M69,1144.41H83.59M69,1160.24H83.59" stroke="#000" stroke-width="3.0" fill="none"/>
<path d="M78.26,1103.24V1125.41M70.96,1103.24H85.56M70.96,1125.41H85.56" stroke="#000" stroke-width="3.0" fill="none"/>
<path d="M80.22,1066.82V1092.15M72.92,1066.82H87.52M72.92,1092.15H87.52" stroke="#000" stroke-width="3.0" fill="none"/>
<path d="M82.19,1046.23V1074.73M74.89,1046.23H89.49M74.89,1074.73H89.49" stroke="#000" stroke-width="3.0" fill="none"/>
<path d="M88.09,1031.98V1063.65M80.79,1031.98H95.39M80.79,1063.65H95.39" stroke="#000" stroke-width="3.0" fill="none"/>
<path d="M93.98,1036.73V1071.57M86.68,1036.73H101.28M86.68,1071.57H101.28" stroke="#000" stroke-width="3.0" fill="none"/>
<path d="M99.88,1045.44V1081.86M92.58,1045.44H107.17M92.58,1081.86H107.17" stroke="#000" stroke-width="3.0" fill="none"/>
<path d="M105.77,1050.98V1085.82M98.47,1050.98H113.07M98.47,1085.82H113.07" stroke="#000" stroke-width="3.0" fill="none"/>
<path d="M117.56,1049.56V1088.83M110.26,1049.56H124.86M110.26,1088.83H124.86" stroke="#000" stroke-width="3.0" fill="none"/>
<path d="M129.35,1055.57V1087.24M122.05,1055.57H136.65M122.05,1087.24H136.65" stroke="#000" stroke-width="3.0" fill="none"/>
<path d="M152.93,1053.36V1089.78M145.63,1053.36H160.23M145.63,1089.78H160.23" stroke="#000" stroke-width="3.0" fill="none"/>
<path d="M188.3,1077.11V1104.98M181,1077.11H195.6M181,1104.98H195.6" stroke="#000" stroke-width="3.0" fill="none"/>
<path d="M247.25,1086.45V1113.37M239.95,1086.45H254.55M239.95,1113.37H254.55" stroke="#000" stroke-width="3.0" fill="none"/>
<path d="M306.2,1099.28V1118.28M298.9,1099.28H313.5M298.9,1118.28H313.5" stroke="#000" stroke-width="3.0" fill="none"/>
<path d="M365.15,1108.78V1127.78M357.85,1108.78H372.45M357.85,1127.78H372.45" stroke="#000" stroke-width="3.0" fill="none"/>
<path d="M424.1,1113.06V1128.89M416.8,1113.06H431.4M416.8,1128.89H431.4" stroke="#000" stroke-width="3.0" fill="none"/>
<path d="M542,1118.6V1133.8M534.7,1118.6H549.3M534.7,1133.8H549.3" stroke="#000" stroke-width="3.0" fill="none"/>
<path d="M659.9,1125.09V1140.29M652.6,1125.09H667.2M652.6,1140.29H667.2" stroke="#000" stroke-width="3.0" fill="none"/>
<path d="M777.8,1134.27V1151.38M770.5,1134.27H785.1M770.5,1151.38H785.1" stroke="#000" stroke-width="3.0" fill="none"/>
<polygon points="64.57,1207.28 78.57,1207.28 71.57,1220.88"/>
<polygon points="66.53,1183.53 80.53,1183.53 73.53,1197.13"/>
<polygon points="68.5,1145.53 82.5,1145.53 75.5,1159.13"/>
<polygon points="70.46,1107.52 84.46,1107.52 77.46,1121.12"/>
<polygon points="72.42,1072.69 86.42,1072.69 79.42,1086.29"/>
<polygon points="74.39,1053.68 88.39,1053.68 81.39,1067.28"/>
<polygon points="80.29,1041.02 94.29,1041.02 87.29,1054.62"/>
<polygon points="86.18,1047.35 100.18,1047.35 93.18,1060.95"/>
<polygon points="92.08,1056.85 106.08,1056.85 99.08,1070.45"/>
<polygon points="97.97,1061.6 111.97,1061.6 104.97,1075.2"/>
<polygon points="109.76,1062.39 123.76,1062.39 116.76,1075.99"/>
<polygon points="121.55,1064.61 135.55,1064.61 128.55,1078.21"/>
<polygon points="145.13,1064.77 159.13,1064.77 152.13,1078.37"/>
<polygon points="180.5,1084.24 194.5,1084.24 187.5,1097.84"/>
<polygon points="239.45,1093.11 253.45,1093.11 246.45,1106.71"/>
<polygon points="298.4,1101.98 312.4,1101.98 305.4,1115.58"/>
<polygon points="357.35,1111.48 371.35,1111.48 364.35,1125.08"/>
<polygon points="416.3,1114.17 430.3,1114.17 423.3,1127.77"/>
<polygon points="534.2,1119.4 548.2,1119.4 541.2,1133"/>
<polygon points="652.1,1125.89 666.1,1125.89 659.1,1139.49"/>
<polygon points="770,1136.03 784,1136.03 777,1149.62"/>
<polyline points="72.37,1212.5 74.33,1185.58 76.3,1142.83 78.26,1098.49 80.22,1063.65 82.19,1038.31 88.09,1004.43 93.98,989.23 99.88,984.48 105.77,982.89 117.56,982.89 129.35,982.89 152.93,981.31 188.3,988.28 247.25,1006.17 306.2,1026.44 365.15,1037.84 424.1,1049.08 542,1059.53 659.9,1074.73 777.8,1091.36" fill="none" stroke="#000" stroke-width="1.6"/>
<path d="M74.33,1179.25V1191.91M67.03,1179.25H81.63M67.03,1191.91H81.63" stroke="#000" stroke-width="3.0" fill="none"/>
<path d="M76.3,1133.32V1152.33M69,1133.32H83.59M69,1152.33H83.59" stroke="#000" stroke-width="3.0" fill="none"/>
<path d="M78.26,1084.24V1112.74M70.96,1084.24H85.56M70.96,1112.74H85.56" stroke="#000" stroke-width="3.0" fill="none"/>
<path d="M80.22,1047.82V1079.49M72.92,1047.82H87.52M72.92,1079.49H87.52" stroke="#000" stroke-width="3.0" fill="none"/>
<path d="M82.19,1019.31V1057.32M74.89,1019.31H89.49M74.89,1057.32H89.49" stroke="#000" stroke-width="3.0" fill="none"/>
<path d="M88.09,975.92V1032.93M80.79,975.92H95.39M80.79,1032.93H95.39" stroke="#000" stroke-width="3.0" fill="none"/>
<path d="M93.98,961.51V1016.94M86.68,961.51H101.28M86.68,1016.94H101.28" stroke="#000" stroke-width="3.0" fill="none"/>
<path d="M99.88,954.39V1014.56M92.58,954.39H107.17M92.58,1014.56H107.17" stroke="#000" stroke-width="3.0" fill="none"/>
<path d="M105.77,953.6V1012.19M98.47,953.6H113.07M98.47,1012.19H113.07" stroke="#000" stroke-width="3.0" fill="none"/>
<path d="M117.56,954.39V1011.39M110.26,954.39H124.86M110.26,1011.39H124.86" stroke="#000" stroke-width="3.0" fill="none"/>
<path d="M129.35,946.47V1019.31M122.05,946.47H136.65M122.05,1019.31H136.65" stroke="#000" stroke-width="3.0" fill="none"/>
<path d="M152.93,954.39V1008.23M145.63,954.39H160.23M145.63,1008.23H160.23" stroke="#000" stroke-width="3.0" fill="none"/>
<path d="M188.3,962.15V1014.4M181,962.15H195.6M181,1014.4H195.6" stroke="#000" stroke-width="3.0" fill="none"/>
<path d="M247.25,981.94V1030.4M239.95,981.94H254.55M239.95,1030.4H254.55" stroke="#000" stroke-width="3.0" fill="none"/>
<path d="M306.2,1006.17V1046.71M298.9,1006.17H313.5M298.9,1046.71H313.5" stroke="#000" stroke-width="3.0" fill="none"/>
<path d="M365.15,1018.36V1057.32M357.85,1018.36H372.45M357.85,1057.32H372.45" stroke="#000" stroke-width="3.0" fill="none"/>
<path d="M424.1,1032.77V1065.39M416.8,1032.77H431.4M416.8,1065.39H431.4" stroke="#000" stroke-width="3.0" fill="none"/>
<path d="M542,1042.91V1076.16M534.7,1042.91H549.3M534.7,1076.16H549.3" stroke="#000" stroke-width="3.0" fill="none"/>
<path d="M659.9,1060.64V1088.83M652.6,1060.64H667.2M652.6,1088.83H667.2" stroke="#000" stroke-width="3.0" fill="none"/>
<path d="M777.8,1081.07V1101.65M770.5,1081.07H785.1M770.5,1101.65H785.1" stroke="#000" stroke-width="3.0" fill="none"/>
<ellipse cx="72.07" cy="1211.9" rx="5.8" ry="4.5" fill="none" stroke="#000" stroke-width="3.0"/>
<ellipse cx="74.03" cy="1184.98" rx="5.8" ry="4.5" fill="none" stroke="#000" stroke-width="3.0"/>
<ellipse cx="76" cy="1142.23" rx="5.8" ry="4.5" fill="none" stroke="#000" stroke-width="3.0"/>
<ellipse cx="77.96" cy="1097.89" rx="5.8" ry="4.5" fill="none" stroke="#000" stroke-width="3.0"/>
<ellipse cx="79.92" cy="1063.05" rx="5.8" ry="4.5" fill="none" stroke="#000" stroke-width="3.0"/>
<ellipse cx="81.89" cy="1037.71" rx="5.8" ry="4.5" fill="none" stroke="#000" stroke-width="3.0"/>
<ellipse cx="87.79" cy="1003.83" rx="5.8" ry="4.5" fill="none" stroke="#000" stroke-width="3.0"/>
<ellipse cx="93.68" cy="988.63" rx="5.8" ry="4.5" fill="none" stroke="#000" stroke-width="3.0"/>
<ellipse cx="99.58" cy="983.88" rx="5.8" ry="4.5" fill="none" stroke="#000" stroke-width="3.0"/>
<ellipse cx="105.47" cy="982.29" rx="5.8" ry="4.5" fill="none" stroke="#000" stroke-width="3.0"/>
<ellipse cx="117.26" cy="982.29" rx="5.8" ry="4.5" fill="none" stroke="#000" stroke-width="3.0"/>
<ellipse cx="129.05" cy="982.29" rx="5.8" ry="4.5" fill="none" stroke="#000" stroke-width="3.0"/>
<ellipse cx="152.63" cy="980.71" rx="5.8" ry="4.5" fill="none" stroke="#000" stroke-width="3.0"/>
<ellipse cx="188" cy="987.68" rx="5.8" ry="4.5" fill="none" stroke="#000" stroke-width="3.0"/>
<ellipse cx="246.95" cy="1005.57" rx="5.8" ry="4.5" fill="none" stroke="#000" stroke-width="3.0"/>
<ellipse cx="305.9" cy="1025.84" rx="5.8" ry="4.5" fill="none" stroke="#000" stroke-width="3.0"/>
<ellipse cx="364.85" cy="1037.24" rx="5.8" ry="4.5" fill="none" stroke="#000" stroke-width="3.0"/>
<ellipse cx="423.8" cy="1048.48" rx="5.8" ry="4.5" fill="none" stroke="#000" stroke-width="3.0"/>
<ellipse cx="541.7" cy="1058.93" rx="5.8" ry="4.5" fill="none" stroke="#000" stroke-width="3.0"/>
<ellipse cx="659.6" cy="1074.13" rx="5.8" ry="4.5" fill="none" stroke="#000" stroke-width="3.0"/>
<ellipse cx="777.5" cy="1090.76" rx="5.8" ry="4.5" fill="none" stroke="#000" stroke-width="3.0"/>
</g>
<path d="M61.4,905.3H70.4V1222H778.3V1231" stroke="#000" stroke-width="5" fill="none" stroke-linejoin="round"/>
<rect x="67.9" y="1219.5" width="5" height="5"/>
<polygon points="70.4,1219.5 61.6,1219.5 59,1222 61.6,1224.5 70.4,1224.5"/>
<polygon points="70.4,1061.15 61.6,1061.15 59,1063.65 61.6,1066.15 70.4,1066.15"/>
<polygon points="70.4,902.8 61.6,902.8 59,905.3 61.6,907.8 70.4,907.8"/>
<polygon points="67.9,1222 67.9,1230.8 70.4,1233.4 72.9,1230.8 72.9,1222"/>
<polygon points="303.3,1222 303.3,1230.8 305.8,1233.4 308.3,1230.8 308.3,1222"/>
<polygon points="540.3,1222 540.3,1230.8 542.8,1233.4 545.3,1230.8 545.3,1222"/>
<polygon points="775.8,1222 775.8,1230.8 778.3,1233.4 780.8,1230.8 780.8,1222"/>
<text x="55.3" y="1230.1" font-family='"Liberation Serif", serif' font-size="27" font-weight="bold" text-anchor="end" textLength="12.2" lengthAdjust="spacingAndGlyphs" >0</text>
<text x="53.6" y="1071.05" font-family='"Liberation Sans", sans-serif' font-size="23.5" font-weight="bold" text-anchor="end" textLength="8.6" lengthAdjust="spacingAndGlyphs" >1</text>
<text x="55.3" y="913.3" font-family='"Liberation Sans", sans-serif' font-size="24.5" font-weight="normal" text-anchor="end" textLength="10.8" lengthAdjust="spacingAndGlyphs" stroke="#000" stroke-width="0.45">2</text>
<text x="67.4" y="1256.8" font-family='"Liberation Serif", serif' font-size="26.5" font-weight="bold" text-anchor="middle" textLength="12.8" lengthAdjust="spacingAndGlyphs" >0</text>
<text x="305.4" y="1256.8" font-family='"Liberation Serif", serif' font-size="26" font-weight="bold" text-anchor="middle" textLength="23.6" lengthAdjust="spacingAndGlyphs" >20</text>
<text x="542" y="1256.8" font-family='"Liberation Serif", serif' font-size="26" font-weight="bold" text-anchor="middle" textLength="24" lengthAdjust="spacingAndGlyphs" >40</text>
<text x="764.6" y="1256.8" font-family='"Liberation Serif", serif' font-size="26" font-weight="bold" text-anchor="start" textLength="23" lengthAdjust="spacingAndGlyphs" >60</text>
<text x="359.8" y="1292.4" font-family='"Liberation Sans", sans-serif' font-size="24.6" font-weight="bold" text-anchor="start" textLength="125.6" lengthAdjust="spacingAndGlyphs" >Time (min)</text>
<text transform="translate(19.6,669.4) rotate(-90)" font-family='"Liberation Sans", sans-serif' font-size="26.4" font-weight="bold" textLength="105.6" lengthAdjust="spacingAndGlyphs">SUV test</text>
<text transform="translate(19.6,1127.8) rotate(-90)" font-family='"Liberation Sans", sans-serif' font-size="26.4" font-weight="bold" textLength="131" lengthAdjust="spacingAndGlyphs">SUV retest</text>
<path d="M505.4,450.6H550.7" stroke="#000" stroke-width="2.6"/>
<rect x="521.15" y="444.5" width="13" height="12"/>
<text x="558.6" y="459" font-family='"Liberation Sans", sans-serif' font-size="24.6" font-weight="bold" text-anchor="start" textLength="213.4" lengthAdjust="spacingAndGlyphs" >Caudate putamen</text>
<path d="M505.4,487.9H550.7" stroke="#000" stroke-width="2.6"/>
<polygon points="521.55,493.8 535.55,493.8 528.55,480.2"/>
<text x="558.6" y="495" font-family='"Liberation Sans", sans-serif' font-size="24.6" font-weight="bold" text-anchor="start" textLength="164.2" lengthAdjust="spacingAndGlyphs" >Hippocampus</text>
<path d="M505.4,523.5H550.7" stroke="#000" stroke-width="2.6"/>
<polygon points="521.55,517.7 535.55,517.7 528.55,531.3"/>
<text x="558.6" y="529.9" font-family='"Liberation Sans", sans-serif' font-size="24.6" font-weight="bold" text-anchor="start" textLength="170.6" lengthAdjust="spacingAndGlyphs" >Olfactory bulb</text>
<path d="M505.4,560.7H550.7" stroke="#000" stroke-width="2.6"/>
<ellipse cx="527.55" cy="559.2" rx="5.4" ry="4.5" fill="none" stroke="#000" stroke-width="3.2"/>
<text x="558.6" y="566.8" font-family='"Liberation Sans", sans-serif' font-size="24.6" font-weight="bold" text-anchor="start" textLength="135.8" lengthAdjust="spacingAndGlyphs" >Cerebellum</text>
<path d="M505.4,896.3H550.7" stroke="#000" stroke-width="2.6"/>
<rect x="521.15" y="890.2" width="13" height="12"/>
<text x="558.6" y="904" font-family='"Liberation Sans", sans-serif' font-size="24.6" font-weight="bold" text-anchor="start" textLength="213.4" lengthAdjust="spacingAndGlyphs" >Caudate putamen</text>
<path d="M505.4,932H550.7" stroke="#000" stroke-width="2.6"/>
<polygon points="521.55,937.9 535.55,937.9 528.55,924.3"/>
<text x="558.6" y="940" font-family='"Liberation Sans", sans-serif' font-size="24.6" font-weight="bold" text-anchor="start" textLength="164.2" lengthAdjust="spacingAndGlyphs" >Hippocampus</text>
<path d="M507.3,969.3H552.7" stroke="#000" stroke-width="2.6"/>
<polygon points="523.5,963.5 537.5,963.5 530.5,977.1"/>
<text x="560.6" y="976.7" font-family='"Liberation Sans", sans-serif' font-size="24.6" font-weight="bold" text-anchor="start" textLength="170.6" lengthAdjust="spacingAndGlyphs" >Olfactory bulb</text>
<path d="M505.4,1005H550.7" stroke="#000" stroke-width="2.6"/>
<ellipse cx="527.55" cy="1004.9" rx="5.4" ry="4.5" fill="none" stroke="#000" stroke-width="3.2"/>
<text x="558.6" y="1011.8" font-family='"Liberation Sans", sans-serif' font-size="24.6" font-weight="bold" text-anchor="start" textLength="135.8" lengthAdjust="spacingAndGlyphs" >Cerebellum</text>
</g></svg>
</body></html>
